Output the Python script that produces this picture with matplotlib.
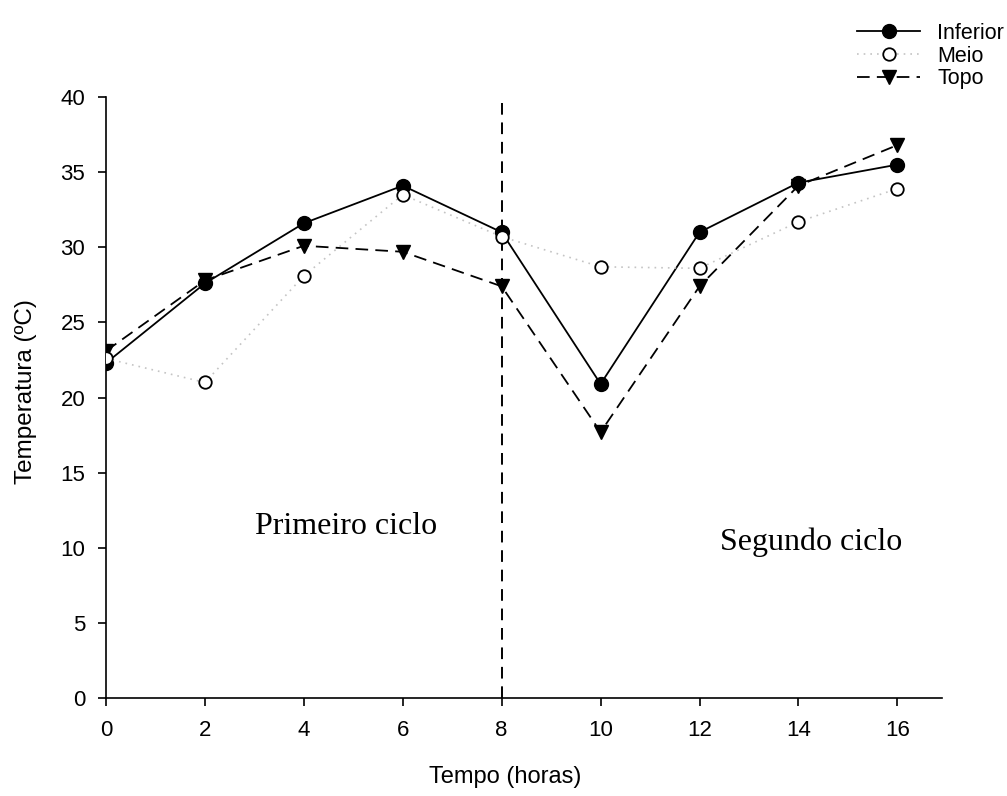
import matplotlib
matplotlib.use("Agg")
import matplotlib.pyplot as plt

plt.rcParams['font.family'] = ['Liberation Sans', 'DejaVu Sans']

# Temperatura medida em tres alturas ao longo de dois ciclos
tempo = [0, 2, 4, 6, 8, 10, 12, 14, 16]
inferior = [22.3, 27.6, 31.6, 34.1, 31.0, 20.9, 31.0, 34.3, 35.5]
meio = [22.6, 21.0, 28.1, 33.5, 30.7, 28.7, 28.6, 31.7, 33.9]
topo = [23.1, 27.8, 30.1, 29.7, 27.4, 17.7, 27.4, 34.1, 36.8]

x_ticks = [0, 2, 4, 6, 8, 10, 12, 14, 16]
y_ticks = [0, 5, 10, 15, 20, 25, 30, 35, 40]
divisao = 8

fig = plt.figure(figsize=(10.07, 7.96), dpi=100)
ax = fig.add_axes([0.1053, 0.1231, 0.830, 0.755])

ax.plot(tempo, inferior, color='black', lw=1.3, marker='o', ms=10,
        mfc='black', mec='black', label='Inferior', zorder=4)
ax.plot(tempo, meio, color='#c4c4c4', lw=1.2, ls=(0, (1, 3)), marker='o', ms=9,
        mfc='white', mec='black', mew=1.3, label='Meio', zorder=5)
ax.plot(tempo, topo, color='black', lw=1.3, ls=(0, (7, 4)), marker='v', ms=10,
        mfc='black', mec='black', label='Topo', zorder=3)

# linha que separa os dois ciclos
ax.vlines(divisao, 0, 39.7, colors='black', linestyles=(0, (6, 4)), lw=1.4, zorder=2)

ax.text(4.85, 11.4, 'Primeiro ciclo', family='Liberation Serif', fontsize=23,
        ha='center', va='center')
ax.text(14.25, 10.4, 'Segundo ciclo', family='Liberation Serif', fontsize=23,
        ha='center', va='center')

ax.set_xlim(0, 16.9)
ax.set_ylim(0, 40)
ax.set_xticks(x_ticks)
ax.set_yticks(y_ticks)
ax.spines['top'].set_visible(False)
ax.spines['right'].set_visible(False)
ax.spines['left'].set_linewidth(1.2)
ax.spines['bottom'].set_linewidth(1.2)
ax.tick_params(direction='out', length=6, width=1.2, labelsize=16)
ax.tick_params(axis='y', pad=9)
ax.tick_params(axis='x', pad=10)

ax.set_xlabel('Tempo (horas)', fontsize=17)
ax.set_ylabel('Temperatura (ºC)', fontsize=17.5)
ax.xaxis.set_label_coords(0.477, -0.113)
ax.yaxis.set_label_coords(-0.083, 0.51)

fig.legend(loc='upper right', bbox_to_anchor=(1.012, 0.99), frameon=False,
           fontsize=15.5, handlelength=2.9, handletextpad=0.8, labelspacing=0.08,
           borderpad=0.2)

fig.savefig('out.png', dpi=100)
